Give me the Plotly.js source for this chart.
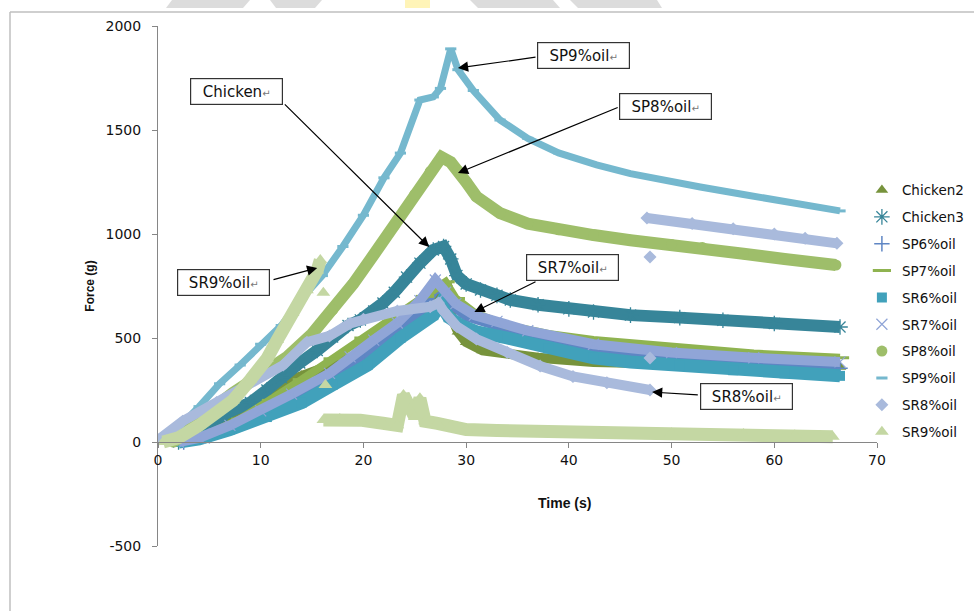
<!DOCTYPE html>
<html>
<head>
<meta charset="utf-8">
<script src="https://cdn.plot.ly/plotly-3.0.1.min.js"></script>
<style>html,body{margin:0;padding:0;background:#fff;}#chart{width:974px;height:611px;}</style>
</head>
<body>
<div id="chart"></div>
<script>
// ---- Data (time in s, force in g) ----
const seriesNames = ['Chicken2','Chicken3','SP6%oil','SP7%oil','SR6%oil','SR7%oil','SP8%oil','SP9%oil','SR8%oil','SR9%oil'];

const chicken2T = [2, 4, 6, 9, 12.2, 14, 16.7, 18.5, 20.4, 22, 23.6, 25, 26.8, 28.1, 28.6, 29.2, 30, 31.6, 34, 37, 42.4, 48, 55, 60, 66.4];
const chicken2F = [0, 20, 80, 160, 284, 320, 375, 400, 428, 465, 505, 560, 635, 764, 600, 530, 480, 440, 420, 405, 385, 375, 370, 365, 360];

const chicken3T = [2, 4, 6.7, 9, 10.6, 12, 13.8, 15.5, 17, 18.5, 19.7, 21, 21.9, 23, 24.2, 25.5, 26.8, 27.8, 28.5, 29.1, 30, 31.4, 33, 34.3, 37, 40, 42.4, 46, 50.8, 55, 60, 66.4];
const chicken3F = [0, 50, 139, 190, 250, 310, 380, 440, 505, 560, 587, 630, 668, 720, 793, 860, 923, 940, 880, 800, 760, 731, 705, 683, 660, 640, 625, 610, 598, 585, 570, 553];

const sp6T = [2.5, 5, 8, 11, 14, 17, 20, 23, 25.5, 27.3, 28.5, 30, 33, 36, 42.4, 50, 58, 66.4];
const sp6F = [0, 30, 90, 160, 240, 320, 410, 520, 620, 750, 660, 600, 550, 510, 450, 410, 380, 355];

const sp7T = [2, 5, 8, 11, 14, 17, 20, 23, 26, 28, 29, 31, 34, 38, 42.4, 50, 58, 66.4];
const sp7F = [0, 40, 110, 200, 300, 400, 500, 600, 700, 770, 690, 615, 560, 520, 490, 455, 425, 405];

const sr6T = [2, 4, 7, 10.6, 14, 17, 20.4, 23.6, 26.8, 27.5, 28.3, 29.5, 31, 34, 38, 42.4, 46, 50.8, 56, 61, 66.4];
const sr6F = [0, 15, 60, 120, 190, 275, 370, 500, 610, 665, 600, 560, 530, 500, 450, 405, 385, 370, 345, 330, 318];

const sr7T = [2, 4, 7, 10, 13, 16.7, 18.7, 21, 23.3, 25.5, 27, 28, 29, 30.8, 33, 36, 42.4, 50, 58, 66.4];
const sr7F = [0, 20, 80, 150, 230, 330, 409, 490, 572, 680, 779, 720, 665, 610, 580, 535, 470, 430, 405, 385];

const sp8T = [1.5, 3, 5, 7.3, 10, 12.6, 15, 17, 19, 21, 23, 25, 26.5, 27.6, 28.5, 29.2, 30, 31, 33.3, 36, 39, 42.4, 46, 50, 53, 57, 61, 66];
const sp8F = [0, 70, 150, 236, 330, 410, 520, 635, 760, 900, 1040, 1190, 1300, 1370, 1345, 1305, 1250, 1180, 1100, 1050, 1020, 995, 970, 950, 935, 905, 880, 851];

const sp9T = [0, 2, 4, 6, 8, 10, 12, 14, 16, 18, 20, 22, 23.6, 25.5, 26.8, 27.5, 28.5, 29.2, 30.7, 33.3, 36, 39, 42.7, 46, 50, 52.8, 57, 61, 64, 66.4];
const sp9F = [0, 70, 170, 280, 370, 470, 560, 690, 800, 940, 1090, 1270, 1389, 1644, 1659, 1700, 1890, 1790, 1690, 1548, 1460, 1390, 1332, 1290, 1250, 1226, 1190, 1160, 1130, 1111];

const sr8T = [0, 2.4, 5.7, 9, 12.2, 14.5, 16.7, 18.7, 20, 23.3, 26.5, 27.3, 27.8, 29.1, 31, 34, 37.2, 40.4, 43.7, 47.9, null, 47.9, null, 47.9, null, 47.6, 52, 56, 60, 63, 66.1];
const sr8F = [10, 100, 190, 285, 370, 480, 510, 570, 590, 630, 650, 668, 630, 555, 495, 430, 365, 315, 285, 250, null, 404, null, 890, null, 1077, 1050, 1025, 1000, 980, 955];

const sr9T = [0.5, 2, 4, 5.7, 7.3, 9, 10.6, 11.6, 13.1, 14.5, 15.5, 15.8, null, 16.1, null, 16.3, null, 16.1, 17.7, 19.7, 21.9, 23.3, 23.9, 24.5, 25, 25.5, 26, 27.2, 28.4, 30, 33, 37, 43, 50, 57, 62, 65.7];
const sr9F = [0, 20, 80, 140, 200, 300, 400, 490, 620, 730, 825, 875, null, 717, null, 274, null, 106, 110, 105, 90, 80, 226, 155, 120, 210, 100, 90, 72, 60, 55, 52, 48, 42, 38, 32, 25];

const xTicks = [0, 10, 20, 30, 40, 50, 60, 70];
const yTicks = [-500, 0, 500, 1000, 1500, 2000];

// ---- Styles ----
const seriesData = [
  [chicken2T, chicken2F], [chicken3T, chicken3F], [sp6T, sp6F], [sp7T, sp7F], [sr6T, sr6F],
  [sr7T, sr7F], [sp8T, sp8F], [sp9T, sp9F], [sr8T, sr8F], [sr9T, sr9F]
];
const styles = [
  {color:'#77933C', width:10, symbol:'triangle-up', size:11, lw:0},
  {color:'#378599', width:12, symbol:'asterisk-open', size:13, lw:1.3},
  {color:'#5F86C4', width:8, symbol:'cross-thin-open', size:11, lw:1.5},
  {color:'#8FB350', width:8, symbol:'line-ew', size:13, lw:3},
  {color:'#41A1BB', width:13, symbol:'square', size:10, lw:0},
  {color:'#90A5D7', width:10, symbol:'x-thin-open', size:11, lw:1.2},
  {color:'#9EBE6A', width:12, symbol:'circle', size:11, lw:0},
  {color:'#75B8CE', width:7, symbol:'line-ew', size:8, lw:3},
  {color:'#A9BADC', width:10, symbol:'diamond', size:10, lw:0},
  {color:'#C4D7A3', width:13, symbol:'triangle-up', size:12, lw:0}
];

const traces = [];
seriesNames.forEach((name, i) => {
  const s = styles[i];
  const [t, f] = seriesData[i];
  traces.push({
    type:'scatter', mode:'lines', x:t, y:f, name:name, legendgroup:'g'+i, showlegend:false,
    line:{color:s.color, width:s.width}, connectgaps:false, hoverinfo:'skip'
  });
  traces.push({
    type:'scatter', mode:'markers', x:t, y:f, name:name, legendgroup:'g'+i, showlegend:true,
    marker:{symbol:s.symbol, size:s.size, color:s.color, line:{color:s.color, width:s.lw}}
  });
});

// ---- Callout boxes & arrows ----
const ret = '<span style="font-size:10px;color:#777">\u21b5</span>';
function box(txt, x, y){
  return {xref:'x', yref:'y', x:x, y:y, text:txt+ret, showarrow:false,
    font:{family:'DejaVu Sans', size:15, color:'#111'}, bgcolor:'#fff',
    bordercolor:'#333', borderwidth:1.2, borderpad:1, width:89, height:23};
}
function arrow(hx, hy, tx, ty){
  return {xref:'x', yref:'y', x:hx, y:hy, axref:'x', ayref:'y', ax:tx, ay:ty, text:'',
    showarrow:true, arrowhead:2, arrowsize:1.7, arrowwidth:1.2, arrowcolor:'#000', standoff:0, startstandoff:0};
}
const annotations = [
  arrow(29.2, 1798, 36.9, 1851),
  arrow(29.2, 1293, 44.9, 1611),
  arrow(26.4, 937, 12.2, 1630),
  arrow(15.5, 837, 11.1, 779),
  arrow(30.8, 625, 36.9, 774),
  arrow(48.1, 240, 52.7, 226),
  box('SP9%oil', 41.4, 1856),
  box('SP8%oil', 49.4, 1615),
  box('Chicken', 7.6, 1683),
  box('SR9%oil', 6.4, 769),
  box('SR7%oil', 40.4, 841),
  box('SR8%oil', 57.3, 221),
  {xref:'paper', yref:'paper', x:0.565, y:0.0635, text:'<b>Time (s)</b>', showarrow:false,
   font:{family:'Liberation Sans', size:14, color:'#111'}}
];

// frame + faint watermark shapes above it (paper coords: x=(px-158)/719, y=(546-py)/520)
function px(x){return (x-158)/719;}
function py(y){return (546-y)/520;}
function poly(pts, fill){
  return {type:'path', xref:'paper', yref:'paper', fillcolor:fill, line:{width:0}, layer:'below',
    path:'M'+pts.map(p=>px(p[0])+','+py(p[1])).join(' L')+' Z'};
}
const shapes = [
  {type:'line', xref:'paper', yref:'paper', x0:px(10), x1:px(974), y0:py(12), y1:py(12), line:{color:'#BFBFBF', width:1.5}},
  {type:'line', xref:'paper', yref:'paper', x0:px(10), x1:px(10), y0:py(12), y1:py(611), line:{color:'#BFBFBF', width:1.5}},
  poly([[172,0],[250,0],[243,8],[166,8]], '#DCDCDC'),
  poly([[270,0],[322,0],[315,8],[276,8]], '#DCDCDC'),
  poly([[405,0],[430,0],[430,8],[405,8]], '#FFF4B8'),
  poly([[470,0],[553,0],[560,8],[478,8]], '#DCDCDC'),
  poly([[570,0],[657,0],[662,8],[578,8]], '#DCDCDC')
];

const layout = {
  width:974, height:611,
  margin:{l:158, r:97, t:26, b:65, autoexpand:false},
  paper_bgcolor:'#fff', plot_bgcolor:'#fff',
  showlegend:true,
  font:{family:'DejaVu Sans', size:14, color:'#111'},
  xaxis:{range:[0,70], tickvals:xTicks, ticktext:xTicks.map(String), showgrid:false, zeroline:false,
    showline:true, linecolor:'#868686', linewidth:1, ticks:'outside', ticklen:5, tickcolor:'#868686',
    anchor:'free', position:0.2, automargin:false, tickfont:{family:'DejaVu Sans', size:14, color:'#111'}},
  yaxis:{range:[-500,2000], tickvals:yTicks, ticktext:yTicks.map(String), showgrid:false, zeroline:false,
    showline:true, linecolor:'#868686', linewidth:1, ticks:'outside', ticklen:5, tickcolor:'#868686',
    automargin:false, ticklabelstandoff:8, tickfont:{family:'DejaVu Sans', size:14, color:'#111'},
    title:{text:'<b>Force (g)</b>', font:{family:'Liberation Sans', size:12, color:'#111'}, standoff:8}},
  legend:{x:0.979, xanchor:'left', y:0.714, yanchor:'top', bgcolor:'rgba(0,0,0,0)',
    font:{family:'DejaVu Sans', size:13.5, color:'#111'}, tracegroupgap:6.3, itemclick:false},
  annotations:annotations,
  shapes:shapes
};

Plotly.newPlot('chart', traces, layout, {displayModeBar:false, staticPlot:true});
</script>
</body>
</html>
